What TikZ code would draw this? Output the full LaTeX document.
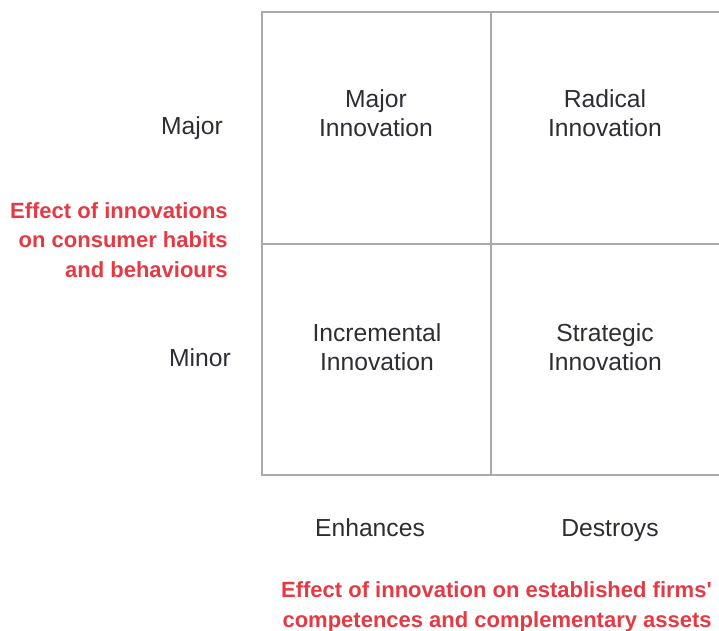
\documentclass[tikz,border=0pt]{standalone}
\usepackage{fontspec}
\usepackage{xcolor}
\setmainfont{Liberation Sans}
\newfontfamily\headfont{Liberation Sans}
\definecolor{gridgray}{RGB}{170,170,174}
\definecolor{headred}{RGB}{229,58,68}
\definecolor{textgray}{RGB}{45,45,52}
\tikzset{
  celltext/.style={align=center, anchor=base, text=textgray, font=\fontsize{18.5}{22}\selectfont},
  axistext/.style={anchor=base, text=textgray, font=\fontsize{18.5}{22}\selectfont},
  headtext/.style={text=headred, font=\headfont\bfseries\fontsize{16.5}{22.2}\selectfont}
}
\begin{document}
\begin{tikzpicture}[x=0.75pt,y=-0.75pt]
\useasboundingbox (0,0) rectangle (719,631);
% grid, right side runs off the page
\draw[gridgray, line width=1.5pt] (719,12)--(262,12)--(262,475)--(719,475);
\draw[gridgray, line width=1.5pt] (491,12)--(491,475);
\draw[gridgray, line width=1.5pt] (262,244)--(719,244);
% cells (base = last line)
\node[celltext] (major) at (376,137) {Major\\Innovation};
\node[celltext] (radical) at (605,137) {Radical\\Innovation};
\node[celltext] (incremental) at (377,371) {Incremental\\Innovation};
\node[celltext] (strategic) at (605,371) {Strategic\\Innovation};
% vertical axis
\node[axistext] (ymajor) at (192,135) {Major};
\node[axistext] (yminor) at (200,367) {Minor};
\node[headtext, align=right, anchor=north east, inner sep=0pt] (ylabel) at (228,202) {Effect of innovations\\on consumer habits\\and behaviours};
% horizontal axis
\node[axistext] (xenh) at (370,537) {Enhances};
\node[axistext] (xdes) at (610,537) {Destroys};
\node[headtext, align=right, anchor=north east, inner sep=0pt] (xlabel) at (712,581.5) {Effect of innovation on established firms'\\competences and complementary assets};
\end{tikzpicture}
\end{document}
